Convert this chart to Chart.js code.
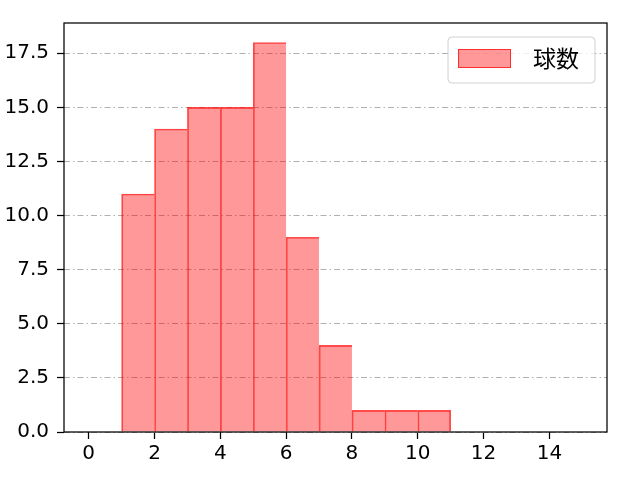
<!DOCTYPE html>
<html>
<head>
<meta charset="utf-8">
<script src="https://cdn.jsdelivr.net/npm/chart.js@4/dist/chart.umd.min.js"></script>
<style>
  html, body { margin: 0; padding: 0; background: #fff; }
  #wrap { width: 640px; height: 480px; }
</style>
</head>
<body>
<div id="wrap"><canvas id="histChart" width="640" height="480"></canvas></div>
<script>
/* ------------------------------
   DATA
--------------------------------*/
const seriesLabel = "球数";
const binEdges = [1, 2, 3, 4, 5, 6, 7, 8, 9, 10, 11];
const binCounts = [11, 14, 15, 15, 18, 9, 4, 1, 1, 1];
const xTicks = [0, 2, 4, 6, 8, 10, 12, 14];
const yTicks = [0, 2.5, 5, 7.5, 10, 12.5, 15, 17.5];

const FONT = "'DejaVu Sans', 'Noto Sans CJK JP', sans-serif";
const barFill = "rgba(255, 0, 0, 0.4)";
const barEdge = "rgba(255, 0, 0, 0.7)";

// bars sit on bin centres, width filled by the scale spacing
let points = binCounts.map((c, i) => ({ x: (binEdges[i] + binEdges[i + 1]) / 2, y: c }));

/* ------------------------------
   FRAME + LEGEND PLUGIN
--------------------------------*/
const frameAndLegend = {
    id: "frameAndLegend",
    afterDraw(chart) {
        const ctx = chart.ctx;
        const a = chart.chartArea;
        ctx.save();
        ctx.strokeStyle = "#000";
        ctx.lineWidth = 1.25;
        ctx.strokeRect(a.left, a.top, a.right - a.left, a.bottom - a.top);

        // legend box, top right
        const ds = chart.data.datasets[0];
        const bw = 147, bh = 46;
        const bx = a.right - 12 - bw, by = a.top + 14;
        ctx.beginPath();
        ctx.roundRect(bx, by, bw, bh, 4);
        ctx.fillStyle = "rgba(255,255,255,0.8)";
        ctx.fill();
        ctx.strokeStyle = "#d0d0d0";
        ctx.lineWidth = 1;
        ctx.stroke();

        ctx.fillStyle = ds.backgroundColor;
        ctx.fillRect(bx + 10, by + 12, 53, 19);
        ctx.strokeStyle = ds.borderColor;
        ctx.strokeRect(bx + 10.5, by + 12.5, 52, 18);

        ctx.fillStyle = "#000";
        ctx.font = "23px " + FONT;
        ctx.textBaseline = "middle";
        ctx.fillText(ds.label, bx + 85, by + bh / 2 + 1);
        ctx.restore();
    }
};

/* ------------------------------
   CHART
--------------------------------*/
let histCtx = document.getElementById("histChart");
const lastBar = binCounts.length - 1;

let histChart = new Chart(histCtx, {
    type: "bar",
    data: {
        datasets: [{
            label: seriesLabel,
            data: points,
            backgroundColor: barFill,
            borderColor: barEdge,
            // one shared edge between neighbours, like a histogram
            borderWidth: c => ({ left: 1, top: 1, bottom: 0, right: c.dataIndex === lastBar ? 1 : 0 }),
            borderSkipped: false,
            barPercentage: 1,
            categoryPercentage: 1
        }]
    },
    options: {
        responsive: false,
        animation: false,
        devicePixelRatio: 1,
        layout: { padding: { left: 0, right: 33, top: 23, bottom: 0 } },
        plugins: {
            legend: { display: false },
            tooltip: { enabled: false }
        },
        scales: {
            x: {
                type: "linear",
                offset: false,
                min: -0.75,
                max: 15.75,
                afterBuildTicks: s => { s.ticks = xTicks.map(v => ({ value: v })); },
                afterFit: s => { s.height = 48; },
                grid: {
                    offset: false,
                    drawOnChartArea: false,
                    drawTicks: true,
                    tickLength: 7,
                    tickColor: "#000",
                    tickWidth: 1.25
                },
                border: { display: false },
                ticks: {
                    color: "#000",
                    padding: 3,
                    maxRotation: 0,
                    font: { family: FONT, size: 20 }
                }
            },
            y: {
                z: 1,
                min: 0,
                max: 18.9,
                afterBuildTicks: s => { s.ticks = yTicks.map(v => ({ value: v })); },
                afterFit: s => { s.width = 64; },
                grid: {
                    color: "#b0b0b0",
                    lineWidth: 1,
                    drawTicks: true,
                    tickLength: 7,
                    tickColor: "#000",
                    tickWidth: 1.25
                },
                border: { display: false, dash: [6, 3, 1.5, 3] },
                ticks: {
                    color: "#000",
                    padding: 8,
                    font: { family: FONT, size: 20 },
                    callback: v => v.toFixed(1)
                }
            }
        }
    },
    plugins: [frameAndLegend]
});
</script>
</body>
</html>
